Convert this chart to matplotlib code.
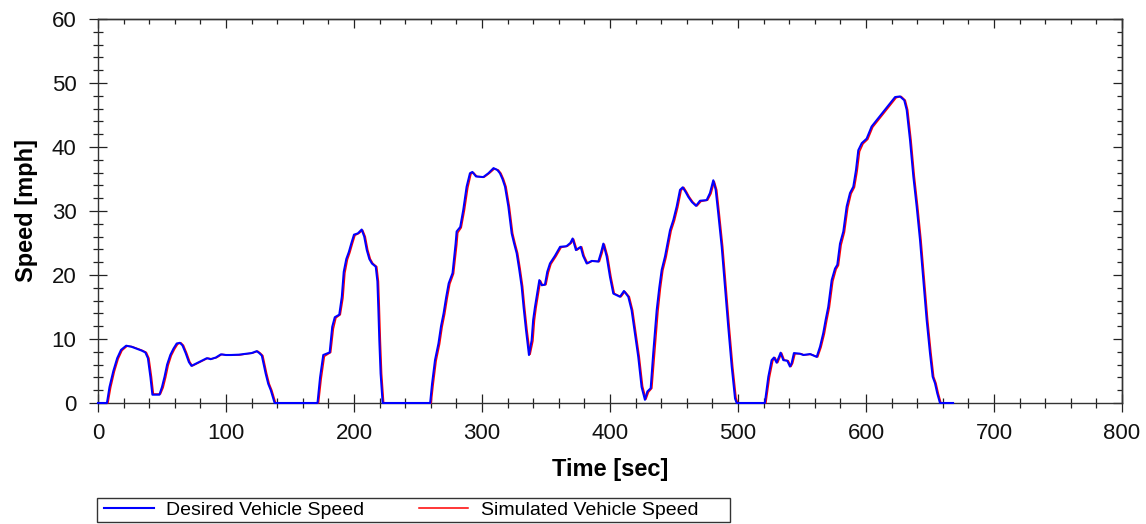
import matplotlib
matplotlib.use("Agg")
import matplotlib.pyplot as plt
from matplotlib.ticker import MultipleLocator
from matplotlib.patches import Rectangle

plt.rcParams['font.family'] = ['Liberation Sans', 'DejaVu Sans']

# Desired vehicle speed trace (time in s, speed in mph)
desired_time = [
    0, 7, 9, 12, 15, 18, 22, 26, 30, 34, 37, 39, 41, 42.5, 48, 50, 52, 54, 56.5, 59,
    61.5, 64, 66, 68.5, 71, 73, 76, 79, 82, 85, 88, 92, 96, 100, 104, 110, 116, 120, 124, 126,
    128, 129.5, 131, 133, 135, 138,
    171.5, 173.5, 176, 181, 183, 185, 188.5, 190.5, 192, 194, 196, 198, 200, 203, 206, 208,
    210, 212, 214, 217, 218.3, 219, 219.8, 220.8, 222.4,
    259.5, 261, 263.3, 266, 268, 270, 272, 274, 277, 279.4, 280.2, 283, 285.4, 288, 290.6,
    292.5, 295.3, 301, 305, 309, 312, 314, 316, 318, 320.6, 323.2, 325, 327.1, 329, 331,
    332.5, 334.4, 336.7, 338.8, 340, 341.4, 343, 344.8, 346.6, 349.2, 351, 353.1, 357, 361,
    366, 369, 370.8, 373.4, 377.1, 379, 381.8, 385.7, 390.9, 393, 394.8, 397.4, 400, 402.6,
    407.8, 410.9, 414.3, 416.9, 419.5, 422.1, 424.7, 427.3, 429.2, 431.8, 433.8, 436.5, 438.5,
    440.4, 443, 445, 446.9, 449.5, 452.1, 454.7, 456.8, 459, 461.2, 464, 467.2, 470.3, 475.5,
    478.1, 480.7, 482.6, 484.6, 487.3, 489.8, 492.4, 495.1, 497.7, 499,
    521, 523.7, 526.3, 528.1, 530.2, 533.3, 535.4, 538.5, 540.6, 541.9, 543.7, 548.4, 551,
    556.3, 561.5, 564.1, 566.6, 568.5, 570.5, 573.2, 575.8, 577.6, 579.7, 582.3, 584.9, 587.5,
    590.1, 592.2, 594, 596.7, 600.5, 604.4, 609.6, 614.8, 618.8, 622.7, 626.6, 629.9, 631.8,
    634.4, 637, 639.6, 642.2, 644.8, 647.4, 650, 652.1, 653.9, 655.7, 657.8, 668,
]
desired_speed = [
    0, 0, 2.5, 5, 7, 8.3, 8.95, 8.8, 8.5, 8.2, 7.9, 7.0, 4, 1.3, 1.3, 2.5, 4.1, 6, 7.5, 8.5,
    9.3, 9.4, 9.0, 7.8, 6.4, 5.8, 6.1, 6.4, 6.7, 7.0, 6.85, 7.1, 7.6, 7.5, 7.5, 7.55, 7.7, 7.8, 8.1, 7.8,
    7.4, 6.0, 4.6, 3.0, 2.0, 0,
    0, 4, 7.5, 7.9, 11.9, 13.4, 13.8, 16.6, 20.5, 22.5, 23.6, 25, 26.3, 26.5, 27.1, 26,
    23.9, 22.5, 21.8, 21.3, 19, 15, 9.8, 4.6, 0,
    0, 3, 6.7, 9.3, 12, 14, 16.5, 18.7, 20.3, 24.9, 26.8, 27.5, 30.2, 33.8, 35.9,
    36.1, 35.4, 35.3, 35.9, 36.7, 36.4, 35.9, 35, 33.8, 30.7, 26.5, 25, 23.4, 21, 18.2,
    15, 11.4, 7.5, 9.8, 13, 15, 17, 19.2, 18.4, 18.5, 20.5, 21.8, 23, 24.4,
    24.5, 25, 25.7, 23.9, 24.4, 23, 21.8, 22.2, 22.1, 23.5, 24.9, 22.9, 19.7, 17.1,
    16.6, 17.5, 16.6, 14.5, 10.9, 7.2, 2.5, 0.5, 1.8, 2.3, 7.8, 14.5, 18,
    20.8, 22.9, 25, 27, 28.6, 30.7, 33.3, 33.7, 33, 32.2, 31.4, 30.8, 31.6, 31.7,
    32.8, 34.8, 33.3, 29.6, 24.4, 18.2, 11.9, 5.7, 0.7, 0,
    0, 4.1, 6.7, 7.1, 6.3, 7.86, 6.7, 6.6, 5.7, 6.2, 7.8, 7.7, 7.5,
    7.65, 7.2, 8.8, 10.9, 13, 15, 19.2, 21, 21.6, 24.9, 26.8, 30.7, 32.8,
    33.8, 36.4, 39.5, 40.6, 41.3, 43.2, 44.5, 45.8, 46.8, 47.8, 47.9, 47.3, 45.8,
    41.1, 35.4, 30.7, 25.5, 19.2, 13, 7.8, 4.1, 3.1, 1.5, 0, 0,
]

# Simulated vehicle speed trace (follows the demand with a small lag)
simulated_time = [
    0, 7.8, 9.9, 12.8, 15.8, 18.8, 22.8, 26.8, 30.8, 34.8, 37.8, 39.8, 41.8, 43.3, 48.8, 50.9, 52.9, 54.9, 57.3, 59.8,
    62.3, 64.8, 66.8, 69.3, 71.8, 73.8, 76.8, 79.8, 82.8, 85.8, 88.8, 92.8, 96.8, 100.8, 104.8, 110.8, 116.8, 120.8, 124.8, 126.8,
    128.8, 130.3, 131.8, 133.8, 135.8, 138.8,
    172.3, 174.4, 176.9, 181.8, 183.9, 185.9, 189.3, 191.4, 192.9, 194.9, 196.8, 198.8, 200.8, 203.8, 206.8, 208.8,
    210.8, 212.8, 214.8, 217.8, 219.1, 219.8, 220.6, 221.6, 223.2,
    260.3, 261.9, 264.2, 266.9, 268.9, 270.9, 272.9, 274.9, 277.8, 280.3, 281.1, 283.8, 286.3, 288.9, 291.4,
    293.3, 296.1, 301.8, 305.8, 309.8, 312.8, 314.8, 316.8, 318.8, 321.4, 324, 325.8, 327.9, 329.8, 331.8,
    333.3, 335.2, 337.6, 339.8, 341, 342.3, 343.9, 345.7, 347.4, 350, 351.9, 353.9, 357.8, 361.8,
    366.8, 369.8, 371.6, 374.2, 377.9, 379.8, 382.6, 386.5, 391.7, 393.8, 395.6, 398.2, 400.8, 403.4,
    408.6, 411.7, 415.1, 417.7, 420.3, 422.9, 425.5, 428.1, 430.1, 432.7, 434.8, 437.5, 439.4,
    441.3, 443.9, 445.9, 447.8, 450.4, 453, 455.6, 457.6, 459.8, 462, 464.8, 468, 471.1, 476.3,
    478.9, 481.5, 483.4, 485.4, 488.1, 490.6, 493.2, 495.9, 498.5, 499.8,
    521.8, 524.6, 527.2, 528.9, 531, 534.1, 536.2, 539.3, 541.4, 542.7, 544.6, 549.2, 551.8,
    557.1, 562.3, 564.9, 567.5, 569.4, 571.4, 574.1, 576.7, 578.5, 580.6, 583.2, 585.8, 588.4,
    591, 593.1, 595, 597.7, 601.4, 605.3, 610.5, 615.7, 619.7, 623.6, 627.5, 630.7, 632.6,
    635.2, 637.8, 640.4, 643, 645.6, 648.2, 650.8, 652.9, 654.7, 656.5, 658.6, 668,
]
simulated_speed = [
    0, 0, 2.4, 4.9, 6.9, 8.2, 8.9, 8.8, 8.5, 8.2, 7.9, 7.0, 4.1, 1.4, 1.4, 2.4, 4.0, 5.9, 7.4, 8.4,
    9.2, 9.4, 9.0, 7.8, 6.4, 5.8, 6.1, 6.4, 6.7, 7.0, 6.9, 7.1, 7.6, 7.5, 7.5, 7.5, 7.7, 7.8, 8.1, 7.8,
    7.4, 6.0, 4.6, 3.0, 2.0, 0,
    0, 3.8, 7.3, 7.9, 11.6, 13.3, 13.8, 16.4, 20.3, 22.4, 23.5, 24.9, 26.2, 26.5, 27.0, 26,
    23.9, 22.5, 21.8, 21.3, 19, 15, 9.8, 4.6, 0,
    0, 2.9, 6.6, 9.2, 11.9, 13.9, 16.4, 18.6, 20.2, 24.7, 26.6, 27.4, 30.1, 33.6, 35.8,
    36.0, 35.4, 35.3, 35.9, 36.6, 36.4, 35.9, 35, 33.8, 30.7, 26.5, 25, 23.4, 21, 18.2,
    15, 11.4, 7.6, 9.7, 12.9, 14.9, 16.9, 19.1, 18.4, 18.5, 20.4, 21.7, 22.9, 24.3,
    24.5, 25, 25.6, 23.9, 24.4, 23, 21.8, 22.2, 22.1, 23.4, 24.8, 22.9, 19.7, 17.1,
    16.6, 17.4, 16.6, 14.5, 10.9, 7.2, 2.6, 0.6, 1.7, 2.3, 7.6, 14.3, 17.9,
    20.7, 22.8, 24.9, 26.9, 28.5, 30.6, 33.2, 33.7, 33, 32.2, 31.4, 30.8, 31.5, 31.7,
    32.7, 34.6, 33.3, 29.6, 24.4, 18.2, 11.9, 5.7, 0.8, 0,
    0, 4.0, 6.6, 7.1, 6.3, 7.8, 6.7, 6.6, 5.7, 6.2, 7.7, 7.7, 7.5,
    7.6, 7.2, 8.7, 10.8, 12.9, 14.9, 19.0, 20.9, 21.5, 24.7, 26.7, 30.5, 32.7,
    33.7, 36.2, 39.3, 40.5, 41.2, 43.1, 44.4, 45.7, 46.7, 47.7, 47.9, 47.3, 45.8,
    41.1, 35.4, 30.7, 25.5, 19.2, 13, 7.8, 4.1, 3.1, 1.5, 0, 0,
]

x_major = 100
x_minor = 20
y_major = 10
y_minor = 2

fig = plt.figure(figsize=(11.46, 5.24), dpi=100)
ax = fig.add_axes([98 / 1146, 1 - 403 / 524, 1024 / 1146, 384 / 524])

sim_line, = ax.plot(simulated_time, simulated_speed, color='#ff0000', lw=1.1,
                    clip_on=False, zorder=3, label='Simulated Vehicle Speed')
des_line, = ax.plot(desired_time, desired_speed, color='#0000ff', lw=1.5,
                    clip_on=False, zorder=4, label='Desired Vehicle Speed')

ax.set_xlim(0, 800)
ax.set_ylim(0, 60)

ax.xaxis.set_major_locator(MultipleLocator(x_major))
ax.xaxis.set_minor_locator(MultipleLocator(x_minor))
ax.yaxis.set_major_locator(MultipleLocator(y_major))
ax.yaxis.set_minor_locator(MultipleLocator(y_minor))

tick_color = '#222222'
ax.tick_params(which='major', direction='inout', length=13, width=0.9,
               color=tick_color, labelsize=16, labelcolor='#111111')
ax.tick_params(which='minor', direction='inout', length=6.5, width=0.9, color=tick_color)
ax.tick_params(axis='x', which='major', pad=8)
ax.tick_params(axis='y', which='major', pad=9)

for sp in ax.spines.values():
    sp.set_linewidth(1.0)
    sp.set_color('#333333')

# Inward-only ticks along the top and right edges
top = ax.secondary_xaxis('top')
top.xaxis.set_major_locator(MultipleLocator(x_major))
top.xaxis.set_minor_locator(MultipleLocator(x_minor))
top.tick_params(which='major', direction='in', length=6.5, width=0.9, color=tick_color, labeltop=False)
top.tick_params(which='minor', direction='in', length=3.3, width=0.9, color=tick_color)
top.spines['top'].set_linewidth(1.0)
top.spines['top'].set_color('#333333')

right = ax.secondary_yaxis('right')
right.yaxis.set_major_locator(MultipleLocator(y_major))
right.yaxis.set_minor_locator(MultipleLocator(y_minor))
right.tick_params(which='major', direction='in', length=6.5, width=0.9, color=tick_color, labelright=False)
right.tick_params(which='minor', direction='in', length=3.3, width=0.9, color=tick_color)
right.spines['right'].set_linewidth(1.0)
right.spines['right'].set_color('#333333')

ax.set_xlabel('Time [sec]', fontsize=17, fontweight='bold', labelpad=10)
ax.set_ylabel('Speed [mph]', fontsize=17, fontweight='bold', labelpad=10)

# Legend below the plot, inside a plain rectangular box
fig.patches.append(Rectangle((97 / 1146, 2 / 524), 633 / 1146, 24 / 524,
                             transform=fig.transFigure, facecolor='white',
                             edgecolor='#333333', linewidth=1.0, zorder=1))
fig.legend(handles=[des_line, sim_line], loc='center left',
           bbox_to_anchor=(104 / 1146, 1 - 510 / 524), ncol=2, frameon=False,
           fontsize=14, handlelength=2.55, handletextpad=0.65, columnspacing=2.8,
           borderpad=0, borderaxespad=0)

fig.savefig('out.png', dpi=100)
